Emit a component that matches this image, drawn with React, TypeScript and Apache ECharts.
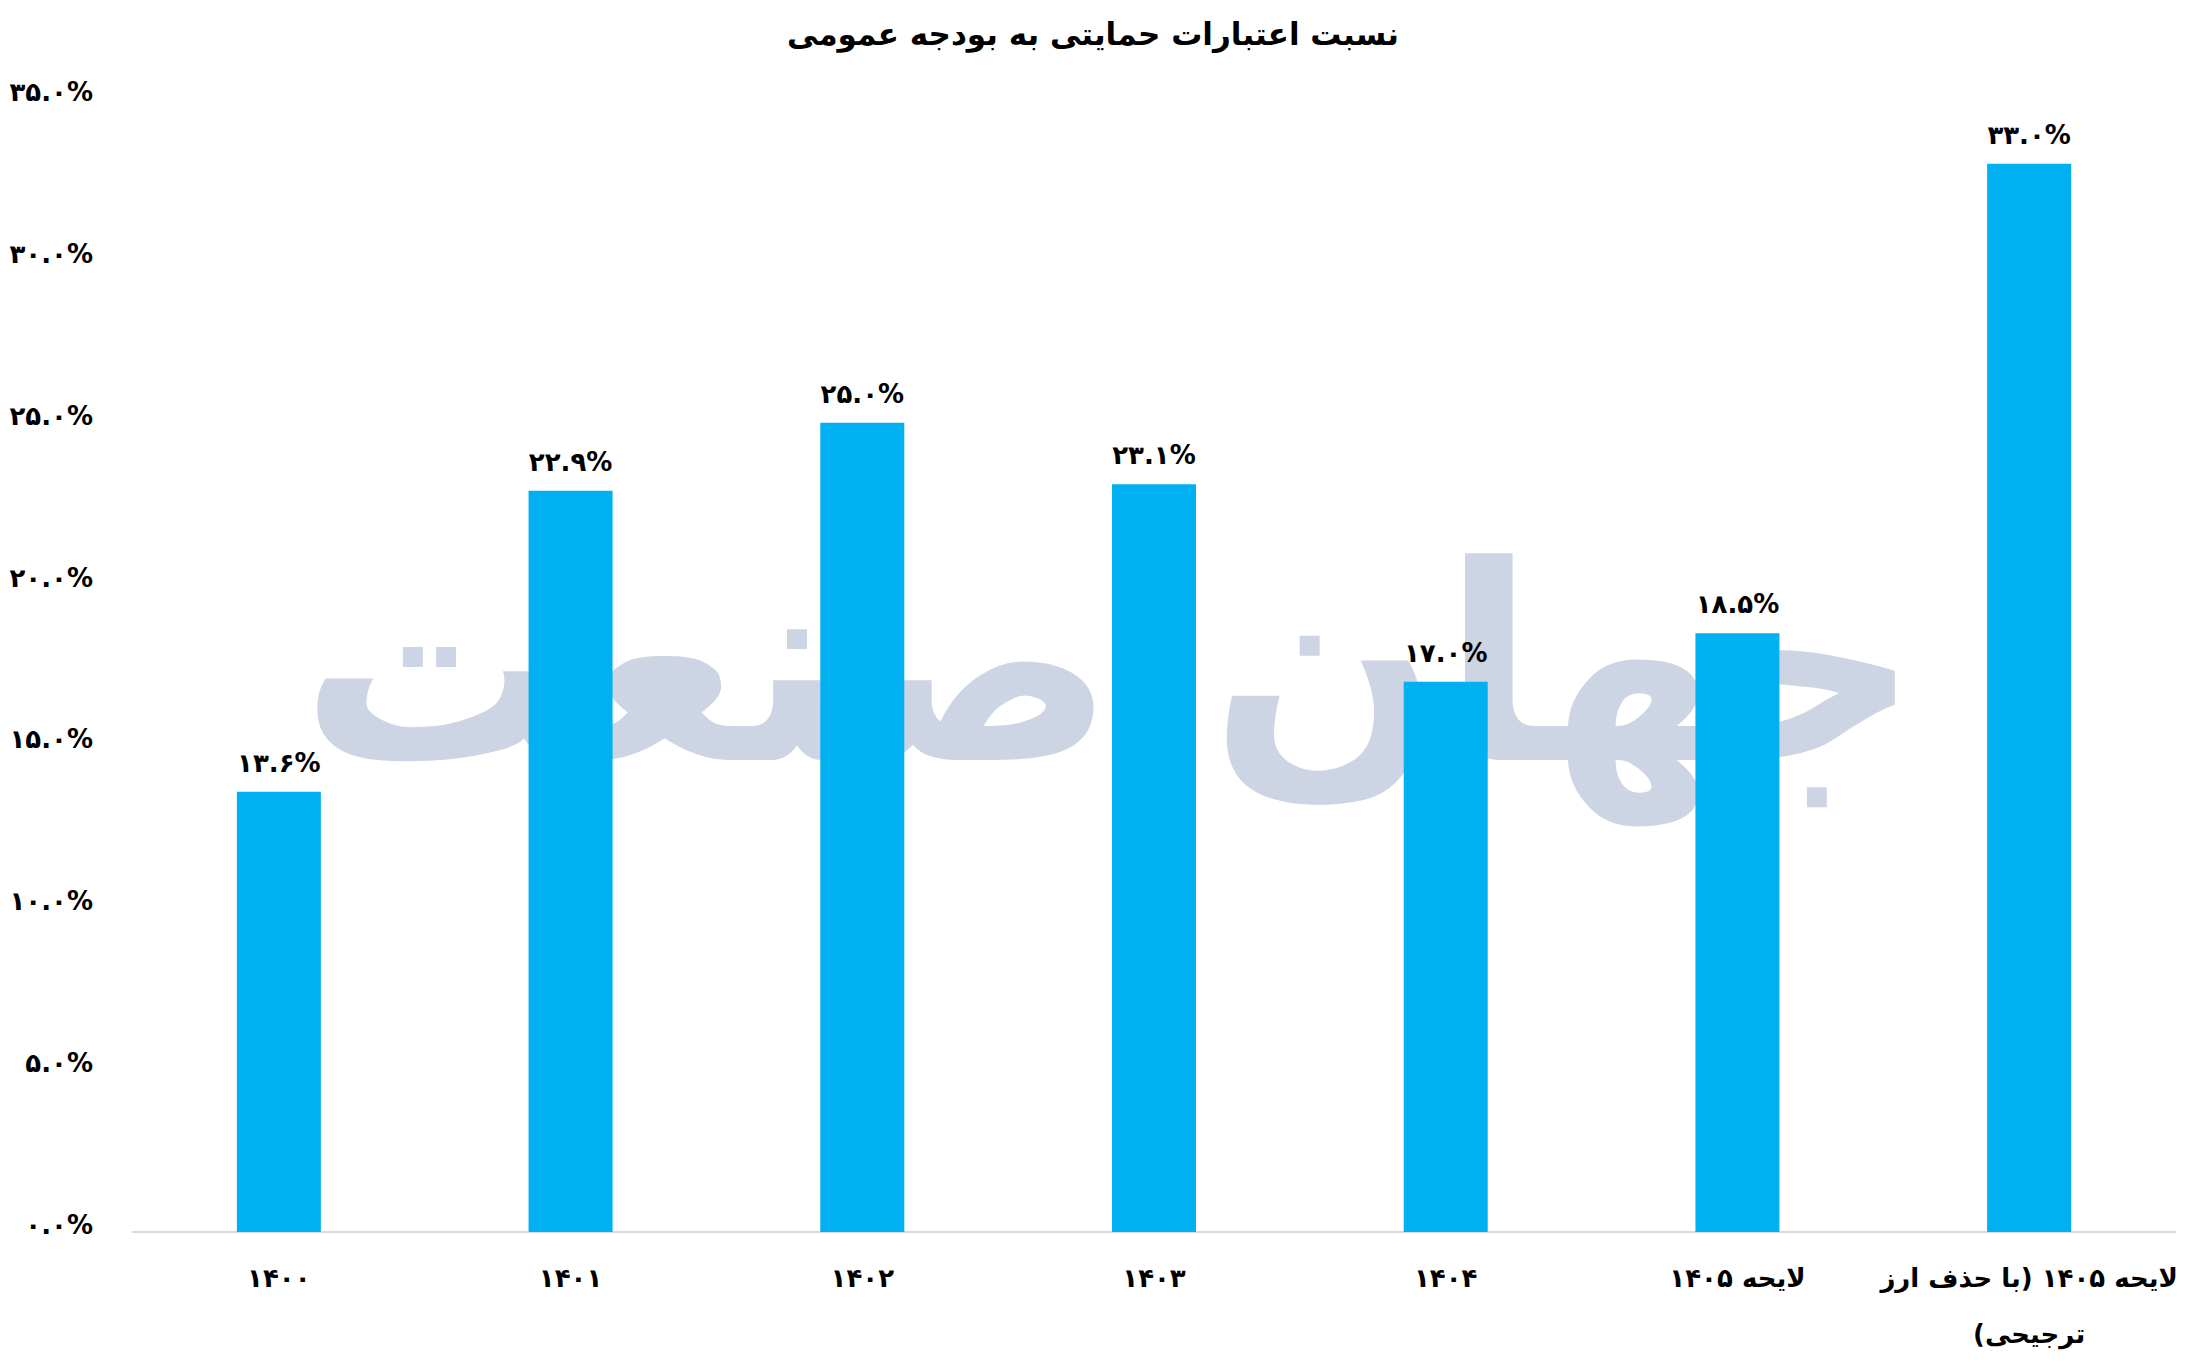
import React, { useEffect, useRef } from "react";
import * as echarts from "echarts";

const TITLE = "نسبت اعتبارات حمایتی به بودجه عمومی";
const WATERMARK = "جهان صنعت";
const categories = [
  "۱۴۰۰",
  "۱۴۰۱",
  "۱۴۰۲",
  "۱۴۰۳",
  "۱۴۰۴",
  "لایحه ۱۴۰۵",
  "لایحه ۱۴۰۵ (با حذف ارز\n(ترجیحی",
];
const values = [13.6, 22.9, 25.0, 23.1, 17.0, 18.5, 33.0];
const yMin = 0;
const yMax = 35;
const yStep = 5;

const FA = "۰۱۲۳۴۵۶۷۸۹";
const toFa = (s: string) => s.replace(/[0-9]/g, (d) => FA[Number(d)]);
const pct = (v: number) => toFa(v.toFixed(1)) + "%";

const FONT = "'DejaVu Sans', 'Noto Sans', sans-serif";

export default function App() {
  const ref = useRef<HTMLDivElement>(null);
  useEffect(() => {
    if (!ref.current) return;
    const chart = echarts.init(ref.current, null, { renderer: "svg" });
    chart.setOption({
      animation: false,
      backgroundColor: "#ffffff",
      title: {
        text: TITLE,
        left: "center",
        top: 13,
        textStyle: {
          fontFamily: FONT,
          fontWeight: "bold",
          fontSize: 31,
          color: "#000000",
        },
      },
      graphic: [
        {
          type: "text",
          z: 0,
          left: 300,
          top: 530,
          style: {
            text: WATERMARK,
            font: "bold 272px 'DejaVu Sans'",
            fill: "#CDD4E4",
          },
        },
      ],
      grid: { left: 133, right: 11, top: 99, bottom: 130, containLabel: false },
      xAxis: {
        type: "category",
        data: categories,
        axisLine: { show: true, lineStyle: { color: "#D9D9D9", width: 2 } },
        axisTick: { show: false },
        axisLabel: {
          interval: 0,
          margin: 18,
          fontFamily: FONT,
          fontWeight: "bold",
          fontSize: 26,
          lineHeight: 56,
          color: "#000000",
        },
      },
      yAxis: {
        type: "value",
        min: yMin,
        max: yMax,
        interval: yStep,
        splitLine: { show: false },
        axisLine: { show: false },
        axisTick: { show: false },
        axisLabel: {
          margin: 40,
          fontFamily: FONT,
          fontWeight: "bold",
          fontSize: 26,
          color: "#000000",
          verticalAlign: "bottom",
          lineHeight: 14,
          formatter: (v: number) => pct(v),
        },
      },
      series: [
        {
          type: "bar",
          z: 2,
          data: values,
          barWidth: 84,
          itemStyle: { color: "#00B0F0" },
          label: {
            show: true,
            position: "top",
            distance: 16,
            fontFamily: FONT,
            fontWeight: "bold",
            fontSize: 26,
            color: "#000000",
            formatter: (p: any) => pct(p.value),
          },
        },
      ],
    });
    return () => chart.dispose();
  }, []);
  return (
    <div
      ref={ref}
      style={{ position: "absolute", left: 0, top: 0, width: 2186, height: 1362 }}
    />
  );
}
